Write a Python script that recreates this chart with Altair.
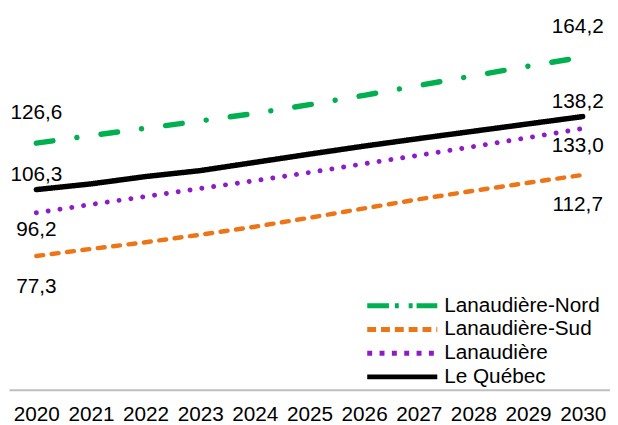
import altair as alt
import pandas as pd

years = [str(y) for y in range(2020, 2031)]
series = ["Lanaudière-Nord", "Lanaudière-Sud", "Lanaudière", "Le Québec"]
nord = [126.6, 129.9, 133.1, 136.3, 139.6, 143.4, 147.5, 151.8, 156.0, 160.2, 164.2]
sud = [77.3, 80.4, 83.3, 86.6, 90.1, 94.0, 98.1, 102.1, 105.8, 109.3, 112.7]
lanaudiere = [96.2, 99.8, 103.3, 106.8, 110.2, 113.8, 117.6, 121.3, 125.1, 129.0, 133.0]
quebec = [106.3, 108.8, 112.0, 114.6, 118.2, 121.8, 125.3, 128.6, 131.8, 135.0, 138.2]
values = [nord, sud, lanaudiere, quebec]

colors = ["#00B050", "#EC7517", "#8B1CC8", "#000000"]
line_dash = [[17, 24.5, 0.01, 24.6], [7, 8.7], [0.01, 12.1], [1, 0]]
line_width = [5.5, 4.5, 5, 5.5]
legend_dash = [[22, 6, 4, 10, 4, 4], [9, 5], [5, 7.5], [1, 0]]
label_dy = [-30, 31, 18, -15]

rows = []
for s, vals in zip(series, values):
    for y, v in zip(years, vals):
        rows.append({"year": y, "series": s, "value": v,
                     "label": f"{v:.1f}".replace(".", ",")})
df = pd.DataFrame(rows)

FONT = "Liberation Sans"

x_enc = alt.X("year:O", title=None,
              axis=alt.Axis(labelAngle=0, ticks=False, grid=False,
                            domainColor="#BFBFBF", domainWidth=2,
                            labelFontSize=21, labelFont=FONT, labelColor="black",
                            labelPadding=14))
y_enc = alt.Y("value:Q", axis=None,
              scale=alt.Scale(domain=[18.9, 179.7], nice=False, zero=False))

base = alt.Chart(df)

leg = alt.Legend(title=None, orient="none", legendX=360.5, legendY=276,
                 symbolType="stroke", symbolSize=5041, symbolStrokeWidth=5,
                 symbolOpacity=1, clipHeight=24, rowPadding=0, labelOffset=4.5,
                 labelFontSize=21, labelFont=FONT, labelColor="black",
                 labelLimit=400, padding=0)

legend_layer = base.mark_line(opacity=0).encode(
    x=x_enc, y=y_enc,
    color=alt.Color("series:N", scale=alt.Scale(domain=series, range=colors), legend=leg),
    strokeDash=alt.StrokeDash("series:N", scale=alt.Scale(domain=series, range=legend_dash), legend=leg),
)

layers = [legend_layer]
for i, s in enumerate(series):
    layers.append(
        base.transform_filter(alt.datum.series == s).mark_line(
            color=colors[i], strokeDash=line_dash[i], strokeWidth=line_width[i],
            strokeCap="round", strokeJoin="round"
        ).encode(x=x_enc, y=y_enc)
    )

for i, s in enumerate(series):
    for yr, dx in (("2020", 0), ("2030", -5)):
        layers.append(
            base.transform_filter((alt.datum.series == s) & (alt.datum.year == yr)).mark_text(
                dx=dx, dy=label_dy[i], fontSize=21, font=FONT, color="black",
                align="center", baseline="middle"
            ).encode(x=x_enc, y=y_enc, text="label:N")
        )

chart = alt.layer(*layers).properties(
    width=609, height=373,
    autosize=alt.AutoSizeParams(type="none"),
    padding={"left": 1, "top": 11, "right": 0, "bottom": 33},
).configure_view(stroke=None)

chart.save("out.html", embed_options={"renderer": "svg", "actions": False})
